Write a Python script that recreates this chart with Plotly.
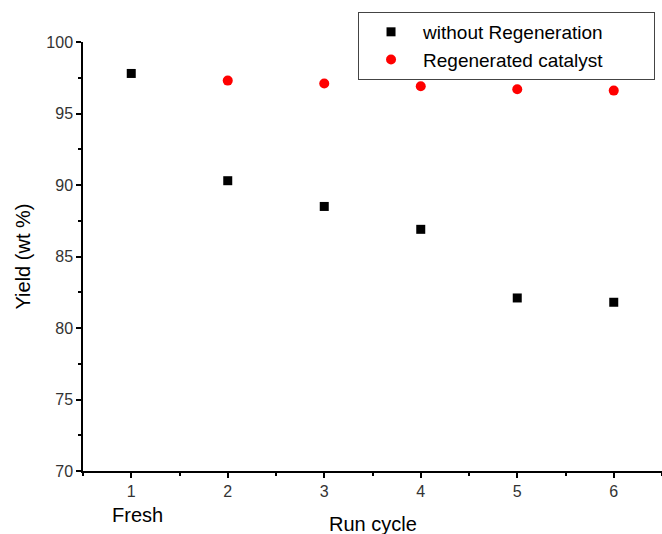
import plotly.graph_objects as go

# Run cycles and yields (wt %)
cycles = [1, 2, 3, 4, 5, 6]
yield_without_regen = [97.8, 90.3, 88.5, 86.9, 82.1, 81.8]
regen_cycles = [2, 3, 4, 5, 6]
yield_regenerated = [97.3, 97.1, 96.9, 96.7, 96.6]
x_tick_vals = [1, 2, 3, 4, 5, 6]
y_tick_vals = [70, 75, 80, 85, 90, 95, 100]

FONT = "Liberation Sans, Arial, sans-serif"
TICK_COLOR = "#333333"

fig = go.Figure()
fig.add_trace(go.Scatter(
    x=cycles, y=yield_without_regen, mode="markers",
    name="without Regeneration",
    marker=dict(symbol="square", size=9, color="black"),
))
fig.add_trace(go.Scatter(
    x=regen_cycles, y=yield_regenerated, mode="markers",
    name="Regenerated catalyst",
    marker=dict(symbol="circle", size=10, color="#ff0000"),
))

axis_common = dict(
    showgrid=False, zeroline=False, automargin=False,
    showline=True, linecolor="black", linewidth=1.5,
    ticks="outside", ticklen=5, tickwidth=1.5, tickcolor="black",
    tickfont=dict(family=FONT, size=16, color=TICK_COLOR),
)

fig.update_layout(
    width=662, height=534,
    margin=dict(l=83, r=0, t=42, b=63, autoexpand=False),
    paper_bgcolor="white", plot_bgcolor="white",
    font=dict(family=FONT, size=16, color=TICK_COLOR),
    showlegend=True,
    legend=dict(
        orientation="h", entrywidth=226, entrywidthmode="pixels",
        x=0.475, y=1.07, xanchor="left", yanchor="top",
        bordercolor="#444444", borderwidth=1, bgcolor="white",
        font=dict(family=FONT, size=19, color="black"),
        itemwidth=54, tracegroupgap=0,
    ),
    xaxis=dict(
        range=[0.5, 6.5], tickvals=x_tick_vals,
        minor=dict(dtick=0.5, ticks="outside", ticklen=3, tickwidth=1.5,
                   tickcolor="black", showgrid=False),
        **axis_common,
    ),
    yaxis=dict(
        range=[70, 100], tickvals=y_tick_vals,
        minor=dict(dtick=2.5, ticks="outside", ticklen=3, tickwidth=1.5,
                   tickcolor="black", showgrid=False),
        **axis_common,
    ),
    annotations=[
        dict(x=1, y=0, xref="x", yref="paper", text="Fresh", showarrow=False,
             yanchor="middle", yshift=-44, xshift=6,
             font=dict(family=FONT, size=20, color="black")),
        dict(x=0.5, y=0, xref="paper", yref="paper", text="Run cycle", showarrow=False,
             yanchor="middle", yshift=-53,
             font=dict(family=FONT, size=20, color="black")),
        dict(x=0, y=0.5, xref="paper", yref="paper", text="Yield (wt %)", showarrow=False,
             textangle=-90, xanchor="center", yanchor="middle", xshift=-61,
             font=dict(family=FONT, size=20, color="black")),
    ],
)

fig.write_html("out.html")
